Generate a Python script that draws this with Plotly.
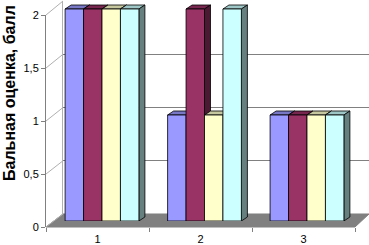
import plotly.graph_objects as go

categories = ["1", "2", "3"]
series_names = ["Ряд1", "Ряд2", "Ряд3", "Ряд4"]
series_values = [
    [2, 1, 1],
    [2, 2, 1],
    [2, 1, 1],
    [2, 2, 1],
]
front_colors = ["#9999FF", "#993366", "#FFFFCC", "#CCFFFF"]
y_ticks = [0, 0.5, 1, 1.5, 2]
y_title = "Бальная оценка, балл"

W, H = 369, 245
L, R, T, B = 46, 0, 0, 18
PW, PH = W - L - R, H - T - B


def px_x(X):
    return (X - L) / PW


def px_y(Y):
    return (H - B - Y) / PH


# domains (pseudo 3D: back wall, bar plane, front axis)
back_x = [px_x(63), 1.0]
back_y = [px_y(214), px_y(1)]
bar_px_per_unit = 106.0
bar_x = [px_x(50.75), px_x(358.25)]
bar_y = [px_y(221), 1.0]
bar_top = 221 / bar_px_per_unit
front_x = [0.0, px_x(355)]
front_y = [0.0, px_y(15)]


def shade(hexc, f):
    h = hexc.lstrip("#")
    r, g, b = (int(h[i:i + 2], 16) for i in (0, 2, 4))
    return "rgb(%d,%d,%d)" % (r * f, g * f, b * f)


fig = go.Figure()

# back wall subplot (x/y) - only gridlines
fig.add_trace(go.Scatter(x=categories, y=[0] * len(categories), xaxis="x", yaxis="y",
                         mode="markers", marker=dict(opacity=0), showlegend=False,
                         hoverinfo="skip"))
# front axis subplot (x2/y2) - ticks and labels
fig.add_trace(go.Scatter(x=categories, y=[0] * len(categories), xaxis="x2", yaxis="y2",
                         mode="markers", marker=dict(opacity=0), showlegend=False,
                         hoverinfo="skip"))

bw = 0.18
n = len(series_values)
depth_px = 6
unit_px = 102.5
rise = 4 / bar_px_per_unit
for i, (name, vals, col) in enumerate(zip(series_names, series_values, front_colors)):
    off = -bw * n / 2 + i * bw
    fig.add_trace(go.Bar(x=categories, y=vals, name=name, xaxis="x3", yaxis="y3",
                         width=bw, offset=off, marker=dict(color=col,
                         line=dict(color="black", width=0.8)), showlegend=False))
    for ci, v in enumerate(vals):
        xa = ci + off
        # top face
        fig.add_shape(type="path", xref="x3", yref="y3", xsizemode="pixel",
                      xanchor=xa + bw, layer="below",
                      path="M%f,%f L%f,%f L%f,%f L%f,%f Z" % (
                          -bw * unit_px, v, 0, v, depth_px, v + rise,
                          depth_px - bw * unit_px, v + rise),
                      fillcolor=shade(col, 0.78), line=dict(color="black", width=0.8))
        # side face
        fig.add_shape(type="path", xref="x3", yref="y3", xsizemode="pixel",
                      xanchor=xa + bw, layer="below",
                      path="M0,0 L%f,%f L%f,%f L0,%f Z" % (
                          depth_px, rise, depth_px, v + rise, v),
                      fillcolor=shade(col, 0.5), line=dict(color="black", width=0.8))

# floor
fig.add_shape(type="path", xref="paper", yref="paper", layer="below",
              path="M%f,%f L%f,%f L%f,%f L%f,%f Z" % (
                  px_x(46), px_y(227), px_x(355), px_y(227),
                  px_x(369), px_y(214), px_x(63), px_y(214)),
              fillcolor="#808080", line=dict(color="#808080", width=1))

# diagonal connectors from front ticks to back wall
for v in y_ticks:
    yf = front_y[0] + v / 2 * (front_y[1] - front_y[0])
    yb = back_y[0] + v / 2 * (back_y[1] - back_y[0])
    fig.add_shape(type="line", xref="paper", yref="paper", layer="below",
                  x0=0, y0=yf, x1=back_x[0], y1=yb,
                  line=dict(color="#b0b0b0", width=1))

fig.update_layout(
    width=W, height=H,
    margin=dict(l=L, r=R, t=T, b=B, autoexpand=False),
    paper_bgcolor="white", plot_bgcolor="rgba(0,0,0,0)",
    separators=", ",
    barmode="group",
    font=dict(family="Liberation Sans, Arial, sans-serif", size=11, color="black"),
    xaxis=dict(domain=back_x, anchor="y", showgrid=False, showticklabels=False,
               ticks="", showline=False, zeroline=False, type="category",
               categoryorder="array", categoryarray=categories,
               range=[-0.5, 2.5], automargin=False),
    yaxis=dict(domain=back_y, anchor="x", range=[0, 2], tickvals=y_ticks,
               showgrid=True, gridcolor="#808080", gridwidth=1,
               showticklabels=False, ticks="", showline=True, linecolor="#b0b0b0",
               zeroline=False, automargin=False),
    xaxis2=dict(domain=front_x, anchor="y2", type="category", range=[-0.5, 2.5],
                categoryorder="array", categoryarray=categories,
                tickson="boundaries", ticks="outside", ticklen=4, tickcolor="#808080",
                showline=False, showgrid=False, zeroline=False, ticklabelstandoff=4,
                tickfont=dict(size=11), automargin=False),
    yaxis2=dict(domain=front_y, anchor="x2", range=[0, 2], tickvals=y_ticks,
                ticks="outside", ticklen=4, tickcolor="#808080", showline=True,
                linecolor="#808080", showgrid=False, zeroline=False,
                tickfont=dict(size=11), automargin=False),
    xaxis3=dict(domain=bar_x, anchor="y3", type="category", range=[-0.5, 2.5],
                categoryorder="array", categoryarray=categories,
                visible=False, automargin=False),
    yaxis3=dict(domain=bar_y, anchor="x3", range=[0, bar_top], visible=False,
                automargin=False),
    annotations=[dict(text="<b>%s</b>" % y_title, textangle=-90, xref="paper",
                      yref="paper", x=px_x(9), y=px_y(183), xanchor="center",
                      yanchor="bottom", showarrow=False,
                      font=dict(size=16, color="black"))],
)

fig.write_html("out.html", config={"displayModeBar": False},
               post_script="document.body.style.margin='0';document.body.style.overflow='hidden';")
